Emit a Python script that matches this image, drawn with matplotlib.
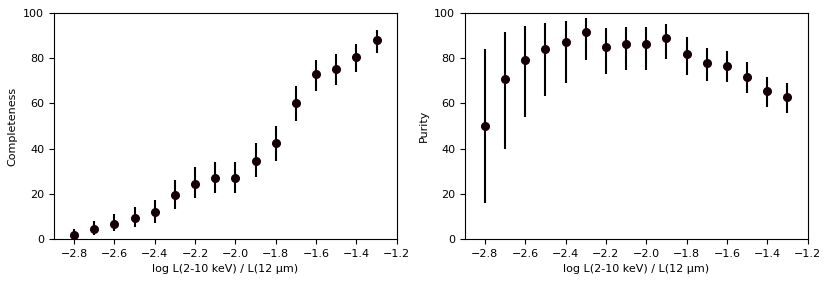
import matplotlib
matplotlib.use('Agg')
import matplotlib.pyplot as plt

ratio = [-2.8, -2.7, -2.6, -2.5, -2.4, -2.3, -2.2, -2.1, -2.0, -1.9, -1.8, -1.7, -1.6, -1.5, -1.4, -1.3]

completeness = [1.8, 4.3, 6.8, 9.3, 11.8, 19.4, 24.4, 27.0, 27.0, 34.6, 42.3, 60.1, 72.9, 75.4, 80.4, 88.1]
comp_hi = [4.3, 8.0, 11.3, 14.3, 17.4, 26.1, 31.7, 34.3, 34.3, 42.3, 50.2, 67.6, 79.4, 81.7, 86.2, 92.6]
comp_lo = [0.0, 1.8, 3.5, 5.3, 7.2, 13.5, 18.1, 20.5, 20.5, 27.5, 34.6, 52.3, 65.5, 68.2, 73.8, 82.3]

purity = [49.9, 70.7, 79.2, 84.1, 87.0, 91.6, 85.1, 86.3, 86.3, 89.1, 81.9, 78.1, 76.7, 71.7, 65.5, 62.7]
pur_hi = [83.9, 91.6, 94.4, 95.7, 96.6, 97.8, 93.4, 94.0, 94.0, 95.1, 89.2, 84.7, 83.1, 78.2, 71.9, 68.9]
pur_lo = [16.1, 39.9, 54.2, 63.2, 69.2, 79.4, 72.9, 75.0, 75.0, 79.7, 72.5, 70.1, 69.5, 64.5, 58.5, 56.0]

fig = plt.figure(figsize=(8.3, 2.83), dpi=100)
ax1 = fig.add_axes([0.065, 0.155, 0.413, 0.799])
ax2 = fig.add_axes([0.560, 0.155, 0.413, 0.799])

panels = [
    (ax1, completeness, comp_lo, comp_hi, 'Completeness'),
    (ax2, purity, pur_lo, pur_hi, 'Purity'),
]

for ax, vals, lo, hi, ylabel in panels:
    yerr = [[v - l for v, l in zip(vals, lo)], [h - v for v, h in zip(vals, hi)]]
    ax.errorbar(ratio, vals, yerr=yerr, fmt='o', color='#140004', ecolor='black',
                elinewidth=1.5, markersize=5.5)
    ax.set_xlim(-2.9, -1.2)
    ax.set_ylim(0, 100)
    ax.set_xticks([-2.8, -2.6, -2.4, -2.2, -2.0, -1.8, -1.6, -1.4, -1.2])
    ax.set_yticks([0, 20, 40, 60, 80, 100])
    ax.tick_params(labelsize=8)
    ax.set_xlabel('log L(2-10 keV) / L(12 μm)', fontsize=8)
    ax.set_ylabel(ylabel, fontsize=8)

fig.savefig('out.png', dpi=100)
